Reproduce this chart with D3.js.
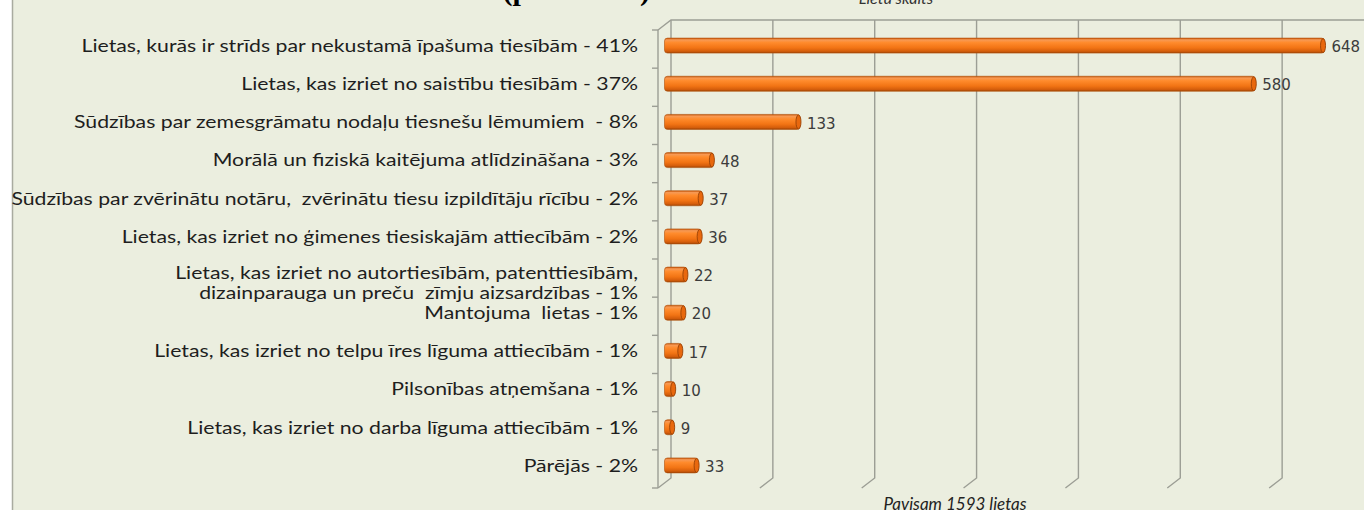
<!DOCTYPE html>
<html>
<head>
<meta charset="utf-8">
<script src="https://cdn.jsdelivr.net/npm/d3@7"></script>
<style>
  html, body { margin: 0; padding: 0; background: #fff; }
  svg { display: block; }
</style>
</head>
<body>
<svg id="chart" width="1364" height="510"></svg>
<script>
const categories = [
  'Lietas, kurās ir strīds par nekustamā īpašuma tiesībām - 41%',
  'Lietas, kas izriet no saistību tiesībām - 37%',
  'Sūdzības par zemesgrāmatu nodaļu tiesnešu lēmumiem  - 8%',
  'Morālā un fiziskā kaitējuma atlīdzināšana - 3%',
  'Sūdzības par zvērinātu notāru,  zvērinātu tiesu izpildītāju rīcību - 2%',
  'Lietas, kas izriet no ģimenes tiesiskajām attiecībām - 2%',
  'Lietas, kas izriet no autortiesībām, patenttiesībām,\ndizainparauga un preču  zīmju aizsardzības - 1%',
  'Mantojuma  lietas - 1%',
  'Lietas, kas izriet no telpu īres līguma attiecībām - 1%',
  'Pilsonības atņemšana - 1%',
  'Lietas, kas izriet no darba līguma attiecībām - 1%',
  'Pārējās - 2%'
]
const values = [648, 580, 133, 48, 37, 36, 22, 20, 17, 10, 9, 33]
const gridTicks = [0, 100, 200, 300, 400, 500, 600, 700]
const axisTitle = 'Lietu skaits'
const totalNote = 'Pavisam 1593 lietas'
const chartTitle = 'Izskatītās lietas (pa tēmām)'

const svg = d3.select('#chart')
const W = 1364, H = 510

// slide background with a thin frame on the left
svg.append('rect').attr('x', 12).attr('y', 0).attr('width', W - 12).attr('height', H).attr('fill', '#ebeedf')
svg.append('line').attr('x1', 12.5).attr('x2', 12.5).attr('y1', 0).attr('y2', H)
  .attr('stroke', '#a9aba0').attr('stroke-width', 1.5)

// 3d depth of the chart box
const depth = { dx: -13, dy: 10 }
const back = { left: 671, top: 20, bottom: 478 }

const x = d3.scaleLinear().domain([0, 700]).range([back.left, back.left + 713])
const y = d3.scaleBand().domain(categories).range([back.top + depth.dy, back.bottom + depth.dy]).padding(0)

const grid = svg.append('g').attr('stroke', '#9c9e95').attr('stroke-width', 1.4).attr('fill', 'none')

// back wall top edge + left wall top diagonal
grid.append('path').attr('d', `M${back.left + depth.dx},${back.top + depth.dy}L${back.left},${back.top}L${W},${back.top}`)

gridTicks.forEach(t => {
  const gx = x(t)
  grid.append('path').attr('d', `M${gx},${back.top}L${gx},${back.bottom}L${gx + depth.dx},${back.bottom + depth.dy}`)
})

// front edge of the left wall with category ticks
const fx = back.left + depth.dx
grid.append('line').attr('x1', fx).attr('x2', fx).attr('y1', back.top + depth.dy).attr('y2', back.bottom + depth.dy)
const edges = categories.map(c => y(c)).concat([y.range()[1]])
grid.selectAll('line.tick').data(edges).enter().append('line')
  .attr('class', 'tick')
  .attr('x1', fx - 6).attr('x2', fx)
  .attr('y1', d => d).attr('y2', d => d)

// cylinder look for the bars
const defs = svg.append('defs')
const grad = defs.append('linearGradient').attr('id', 'barGrad').attr('x1', 0).attr('x2', 0).attr('y1', 0).attr('y2', 1)
grad.selectAll('stop').data([
  [0, '#c9570b'], [0.12, '#f79a55'], [0.3, '#ff8b2c'], [0.65, '#f27414'], [0.88, '#d45d0b'], [1, '#9e4406']
]).enter().append('stop').attr('offset', d => d[0]).attr('stop-color', d => d[1])

const barH = 15
const mid = { dx: depth.dx / 2, dy: depth.dy / 2 }
const barY = c => y(c) + y.bandwidth() / 2 - mid.dy + 1.5

const bars = svg.append('g')
bars.selectAll('rect.bar').data(values).enter().append('rect')
  .attr('class', 'bar')
  .attr('x', x(0) + mid.dx)
  .attr('y', (d, i) => barY(categories[i]) - barH / 2)
  .attr('width', d => x(d) - x(0))
  .attr('height', barH)
  .attr('rx', 3)
  .attr('fill', 'url(#barGrad)')
  .attr('stroke', '#b0500a').attr('stroke-width', 0.6)

bars.selectAll('ellipse.cap').data(values).enter().append('ellipse')
  .attr('class', 'cap')
  .attr('cx', d => x(d) + mid.dx - 1.5)
  .attr('cy', (d, i) => barY(categories[i]))
  .attr('rx', 2.5).attr('ry', barH / 2 - 0.5)
  .attr('fill', '#e8680e').attr('stroke', '#9a4206').attr('stroke-width', 0.9)

// value labels
svg.append('g').selectAll('text').data(values).enter().append('text')
  .attr('x', d => x(d) + mid.dx + 7)
  .attr('y', (d, i) => barY(categories[i]) + 1)
  .attr('dy', '0.38em')
  .attr('font-family', 'DejaVu Sans, Verdana, sans-serif')
  .attr('font-size', 15)
  .attr('fill', '#3c3c3c')
  .text(d => d)

// category labels (the slide is stretched a little sideways)
const labels = svg.append('g')
  .attr('transform', 'translate(638,0) scale(1.18,1)')
  .attr('font-family', 'Lato, Carlito, sans-serif')
  .attr('font-size', 18)
  .attr('fill', '#1e1e1e')
  .attr('text-anchor', 'end')
categories.forEach(c => {
  const lines = c.split('\n')
  const t = labels.append('text')
    .attr('x', 0)
    .attr('y', barY(c) + (lines.length > 1 ? -2 : 0))
    .style('white-space', 'pre')
  lines.forEach((ln, j) => {
    t.append('tspan').attr('x', 0).attr('dy', j === 0 ? '0.35em' : '1.1em').text(ln)
  })
})

// titles cut by the slide crop
svg.append('text').attr('x', 650).attr('y', 0)
  .attr('text-anchor', 'end')
  .attr('font-family', 'Liberation Serif, serif').attr('font-weight', 'bold').attr('font-size', 30)
  .attr('fill', '#000').text(chartTitle)
svg.append('text').attr('x', 896).attr('y', 4)
  .attr('text-anchor', 'middle')
  .attr('font-family', 'Lato, sans-serif').attr('font-style', 'italic').attr('font-size', 16)
  .attr('fill', '#333').text(axisTitle)
svg.append('text').attr('x', 955).attr('y', 510)
  .attr('text-anchor', 'middle')
  .attr('font-family', 'Lato, sans-serif').attr('font-style', 'italic').attr('font-size', 17)
  .attr('fill', '#222').text(totalNote)
</script>
</body>
</html>
